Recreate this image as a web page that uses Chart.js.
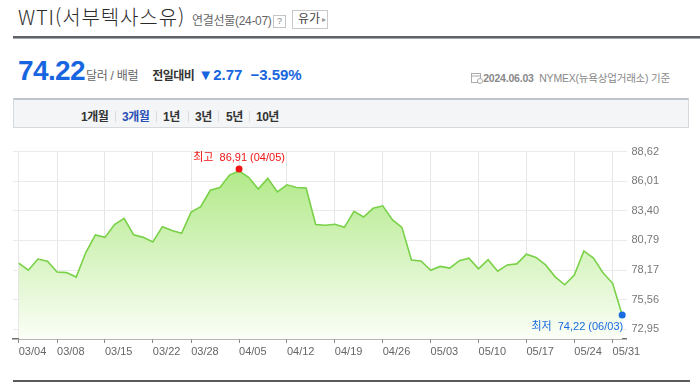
<!DOCTYPE html>
<html lang="ko">
<head>
<meta charset="utf-8">
<title>WTI(서부텍사스유)</title>
<script src="https://cdn.jsdelivr.net/npm/chart.js@4.4.1/dist/chart.umd.min.js"></script>
<style>
  body {
    margin: 0;
    width: 700px;
    height: 392px;
    position: relative;
    overflow: hidden;
    background: #fff;
    font-family: "Liberation Sans", "Noto Sans CJK KR", sans-serif;
    color: #333;
  }
  .abs { position: absolute; white-space: nowrap; }
  .title { left: 18px; top: 3px; font: 300 20px/28px "Noto Sans CJK KR", sans-serif; color: #2b2b2b; letter-spacing: 0.9px; }
  .sub { left: 192px; top: 13px; font-size: 12px; line-height: 16px; color: #666; letter-spacing: -0.3px; }
  .qbox { left: 273px; top: 15px; width: 11px; height: 11px; border: 1px solid #c4c4c4; font-size: 9px; line-height: 11px; text-align: center; color: #888; }
  .btn { left: 292px; top: 10px; width: 34px; height: 17px; border: 1px solid #c9c9c9; font-size: 12px; line-height: 17px; color: #444; }
  .btn span { position: absolute; }
  .rule-top { left: 13px; top: 36px; width: 687px; height: 2px; background: #5e6369; border-bottom: 1px solid #a3a7ad; }
  .price-row { left: 18px; top: 54px; font-size: 28px; line-height: 34px; }
  .big { font-size: 28px; font-weight: bold; color: #1766e0; letter-spacing: -0.6px; }
  .unit { font-size: 12px; color: #666; margin-left: 1px; letter-spacing: -0.3px; }
  .diff-lbl { font-size: 12px; font-weight: bold; color: #333; margin-left: 14px; letter-spacing: -0.5px; }
  .tri { font-size: 15px; color: #1766e0; margin-left: 4px; }
  .diff { font-size: 15px; font-weight: bold; color: #1766e0; }
  .info { right: 30px; top: 70px; font-size: 10.5px; line-height: 16px; color: #888; letter-spacing: -0.2px; }
  .tabs { left: 13px; top: 98px; width: 676px; height: 30px; box-sizing: border-box; background: #f4f5f7; border: 1px solid #d5d8dd; border-top: 2px solid #bfc3ca; }
  .tab { top: 109px; font-size: 12px; line-height: 16px; font-weight: bold; color: #333; letter-spacing: -0.5px; }
  .tab.on { color: #2a4fb5; }
  .sep { top: 111px; width: 1px; height: 11px; background: #dcdcdc; }
  .rule-bot { left: 13px; top: 380px; width: 677px; height: 2px; background: #5a5a5a; }
  #chart { position: absolute; left: 0; top: 140px; }
</style>
</head>
<body>
  <div class="abs title">WTI(서부텍사스유)</div>
  <div class="abs sub">연결선물(24-07)</div>
  <div class="abs qbox">?</div>
  <div class="abs btn"><span style="left:5px">유가</span><span style="left:29px;font-size:8px;color:#999">▸</span></div>
  <div class="abs rule-top"></div>

  <div class="abs price-row">
    <span class="big">74.22</span><span class="unit">달러 / 배럴</span><span class="diff-lbl">전일대비</span><span class="tri">▼</span><span class="diff">2.77</span><span class="diff" style="margin-left:8px">−3.59%</span>
  </div>

  <div class="abs info">
    <svg width="12" height="12" viewBox="0 0 12 12" style="vertical-align:-2px">
      <rect x="0.5" y="1.5" width="9" height="9" fill="none" stroke="#aaa"/>
      <line x1="0.5" y1="4" x2="9.5" y2="4" stroke="#aaa"/>
      <circle cx="9" cy="9" r="2.5" fill="#fff" stroke="#aaa"/>
    </svg><b style="font-weight:bold">2024.06.03</b>&nbsp; NYMEX(뉴욕상업거래소) 기준
  </div>

  <div class="abs tabs"></div>
  <div class="abs tab" style="left:81px">1개월</div>
  <div class="abs sep" style="left:115px"></div>
  <div class="abs tab on" style="left:122px">3개월</div>
  <div class="abs sep" style="left:156px"></div>
  <div class="abs tab" style="left:163px">1년</div>
  <div class="abs sep" style="left:188px"></div>
  <div class="abs tab" style="left:195px">3년</div>
  <div class="abs sep" style="left:218px"></div>
  <div class="abs tab" style="left:226px">5년</div>
  <div class="abs sep" style="left:249px"></div>
  <div class="abs tab" style="left:256px">10년</div>

  <canvas id="chart" width="700" height="225"></canvas>
  <div class="abs rule-bot"></div>

<script>
  const FONT = "'Liberation Sans', 'Noto Sans CJK KR', sans-serif";

  // trading days, 3 months
  const dates = [
    "03/04", "03/05", "03/06", "03/07", "03/08",
    "03/11", "03/12", "03/13", "03/14", "03/15",
    "03/18", "03/19", "03/20", "03/21", "03/22",
    "03/25", "03/26", "03/27", "03/28",
    "04/01", "04/02", "04/03", "04/04", "04/05",
    "04/08", "04/09", "04/10", "04/11", "04/12",
    "04/15", "04/16", "04/17", "04/18", "04/19",
    "04/22", "04/23", "04/24", "04/25", "04/26",
    "04/29", "04/30", "05/01", "05/02", "05/03",
    "05/06", "05/07", "05/08", "05/09", "05/10",
    "05/13", "05/14", "05/15", "05/16", "05/17",
    "05/20", "05/21", "05/22", "05/23", "05/24",
    "05/28", "05/29", "05/30", "05/31",
    "06/03"
  ];

  // WTI close, dollars / barrel
  const prices = [
    78.78, 78.16, 79.15, 78.95, 78.01,
    77.95, 77.56, 79.72, 81.28, 81.06,
    82.19, 82.73, 81.28, 81.06, 80.66,
    82.00, 81.66, 81.42, 83.28,
    83.76, 85.21, 85.46, 86.55, 86.91,
    86.35, 85.33, 86.26, 85.07, 85.69,
    85.46, 85.41, 82.19, 82.13, 82.22,
    81.94, 83.36, 82.85, 83.62, 83.84,
    82.62, 81.94, 79.06, 78.98, 78.16,
    78.50, 78.35, 79.01, 79.23, 78.29,
    79.09, 78.07, 78.63, 78.72, 79.57,
    79.29, 78.63, 77.58, 76.88, 77.73,
    79.86, 79.23, 77.93, 77.01,
    74.22
  ];

  const tickDates = ["03/04", "03/08", "03/15", "03/22", "03/28", "04/05", "04/12",
    "04/19", "04/26", "05/03", "05/10", "05/17", "05/24", "05/31"];

  const yTicks = [72.95, 75.56, 78.17, 80.79, 83.40, 86.01, 88.62];

  const fmt = (v) => v.toFixed(2).replace(".", ",");

  // high / low markers with their labels
  const markHighLow = {
    id: "markHighLow",
    afterDatasetsDraw(chart) {
      const ctx = chart.ctx;
      const pts = chart.getDatasetMeta(0).data;
      const hi = prices.indexOf(Math.max(...prices));
      const lo = prices.indexOf(Math.min(...prices));

      ctx.save();
      ctx.font = "11px " + FONT;
      ctx.textBaseline = "middle";

      ctx.fillStyle = "#f01414";
      ctx.beginPath();
      ctx.arc(pts[hi].x, pts[hi].y - 2, 3.5, 0, Math.PI * 2);
      ctx.fill();
      ctx.textAlign = "center";
      ctx.fillText("최고  " + fmt(prices[hi]) + " (" + dates[hi] + ")", pts[hi].x, pts[hi].y - 13);

      ctx.fillStyle = "#1a6be0";
      ctx.beginPath();
      ctx.arc(pts[lo].x, pts[lo].y, 3.5, 0, Math.PI * 2);
      ctx.fill();
      ctx.textAlign = "right";
      ctx.fillText("최저  " + fmt(prices[lo]) + " (" + dates[lo] + ")", pts[lo].x + 1, pts[lo].y + 12);
      ctx.restore();
    },
  };

  new Chart(document.getElementById("chart"), {
    type: "line",
    data: {
      datasets: [
        {
          data: prices.map((p, i) => ({ x: i, y: p })),
          borderColor: "#78d146",
          borderWidth: 1.6,
          pointRadius: 0,
          tension: 0,
          fill: "start",
          backgroundColor: (c) => {
            const area = c.chart.chartArea;
            if (!area) return "rgba(0,0,0,0)";
            const g = c.chart.ctx.createLinearGradient(0, area.top, 0, area.bottom);
            g.addColorStop(0, "#a9e77c");
            g.addColorStop(1, "#fbfef7");
            return g;
          },
        },
      ],
    },
    options: {
      responsive: false,
      animation: false,
      layout: { padding: { top: 6, left: 13, right: 0, bottom: 0 } },
      plugins: { legend: { display: false }, tooltip: { enabled: false } },
      scales: {
        x: {
          type: "linear",
          min: -0.6,
          max: 63.45,
          afterBuildTicks: (ax) => {
            ax.ticks = tickDates.map((d) => ({ value: dates.indexOf(d) }));
          },
          afterFit: (ax) => { ax.height = 26; },
          ticks: {
            callback: (v) => dates[v],
            align: "start",
            autoSkip: false,
            maxRotation: 0,
            padding: 2,
            color: "#666",
            font: { size: 11, family: FONT },
          },
          grid: { color: "#e6e6e6", tickColor: "#888", tickLength: 4 },
          border: { display: true, color: "#6e6e6e", width: 1.5 },
        },
        y: {
          position: "right",
          min: 72.1,
          max: 88.62,
          afterBuildTicks: (ax) => {
            ax.ticks = yTicks.map((v) => ({ value: v }));
          },
          afterFit: (ax) => { ax.width = 73.5; },
          ticks: {
            callback: (v) => fmt(v),
            padding: 5,
            color: "#777",
            font: { size: 11, family: FONT },
          },
          grid: { color: "#ebebeb", drawTicks: false },
          border: { display: false },
        },
      },
    },
    plugins: [markHighLow],
  });
</script>
</body>
</html>
